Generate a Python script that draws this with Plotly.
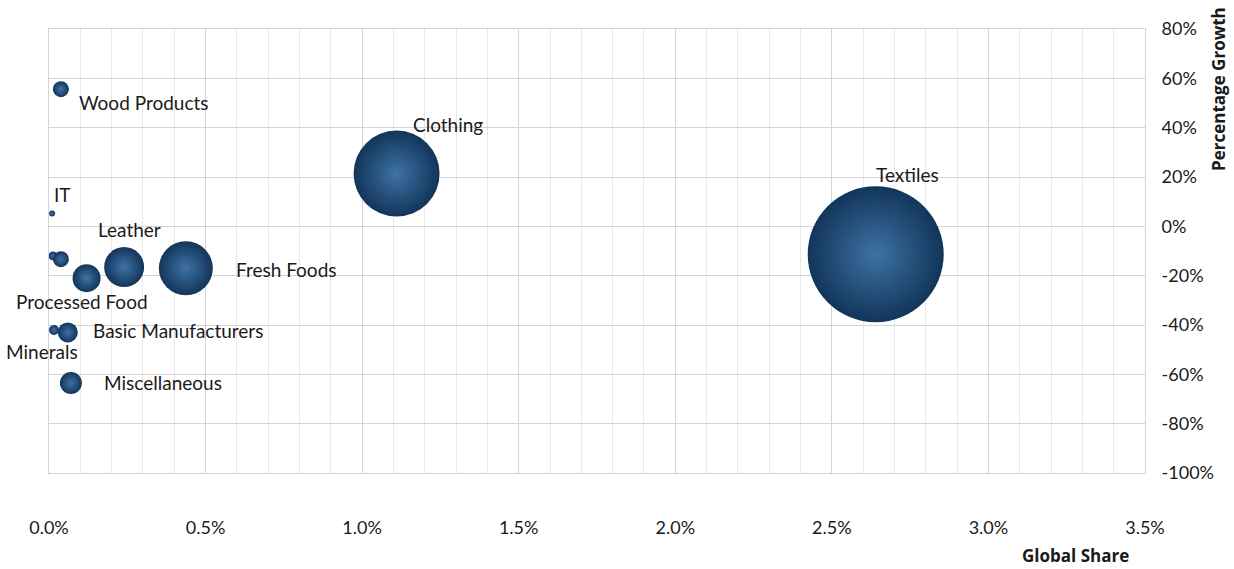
import plotly.graph_objects as go

# ---- data ----
sectors = ["Wood Products", "IT", "Unlabeled A", "Unlabeled B", "Processed Food", "Leather",
           "Fresh Foods", "Minerals", "Basic Manufacturers", "Miscellaneous", "Clothing", "Textiles"]
global_share = [0.038, 0.010, 0.013, 0.038, 0.120, 0.240, 0.437, 0.016, 0.060, 0.070, 1.110, 2.640]   # %
growth = [55.6, 5.2, -12.0, -13.3, -21.0, -16.5, -17.0, -42.0, -43.0, -63.5, 21.4, -11.3]           # %
bubble_size = [16, 6, 9, 16, 28, 40, 54, 10, 20, 22, 86, 136]

labels = ["Wood Products", "IT", "", "", "Processed Food", "Leather", "Fresh Foods",
          "Minerals", "Basic Manufacturers", "Miscellaneous", "Clothing", "Textiles"]

y_tick_vals = [80, 60, 40, 20, 0, -20, -40, -60, -80, -100]
y_tick_text = ["80%", "60%", "40%", "20%", "0%", "-20%", "-40%", "-60%", "-80%", "-100%"]
x_tick_vals = [0, 0.5, 1.0, 1.5, 2.0, 2.5, 3.0, 3.5]
x_tick_text = ["0.0%", "0.5%", "1.0%", "1.5%", "2.0%", "2.5%", "3.0%", "3.5%"]

# label offsets in pixels (dx, dy, anchor)
label_pos = {
    "Wood Products": (16, -13, "left"),
    "IT": (0, 19, "left"),
    "Processed Food": (-73, -23, "left"),
    "Leather": (-28, 38, "left"),
    "Fresh Foods": (48, -1, "left"),
    "Minerals": (26, -22, "right"),
    "Basic Manufacturers": (23, 2, "left"),
    "Miscellaneous": (31, 0, "left"),
    "Clothing": (14, 49, "left"),
    "Textiles": (-2, 80, "left"),
}

fig = go.Figure()
fig.add_trace(go.Scatter(
    x=global_share, y=growth, mode="markers",
    marker=dict(size=bubble_size, sizemode="diameter", color="#12355a", opacity=1,
                gradient=dict(type="radial", color="#3e72a4"),
                line=dict(width=0)),
    hovertext=sectors, showlegend=False,
))

font = "Lato"
for lab, xv, yv in zip(labels, global_share, growth):
    if not lab:
        continue
    dx, dy, anc = label_pos[lab]
    fig.add_annotation(x=xv, y=yv, text=lab, showarrow=False, xanchor=anc, yanchor="middle",
                       xshift=dx, yshift=dy, font=dict(family=font, size=19, color="#1a1a1a"))

fig.add_annotation(xref="paper", yref="paper", x=1.067, y=1.055, text="<b>Percentage Growth</b>",
                   textangle=-90, showarrow=False, xanchor="center", yanchor="top",
                   font=dict(family="Open Sans", size=17, color="#1a1a1a"))
fig.add_annotation(xref="paper", yref="paper", x=0.937, y=-0.185, text="<b>Global Share</b>",
                   showarrow=False, xanchor="center", yanchor="middle",
                   font=dict(family="Open Sans", size=17, color="#1a1a1a"))

fig.update_xaxes(range=[0, 3.5], tickvals=x_tick_vals, ticktext=x_tick_text,
                 showgrid=True, gridcolor="#d4d4d4", gridwidth=1,
                 minor=dict(dtick=0.1, showgrid=True, gridcolor="#e8e8e8", gridwidth=1),
                 showline=True, linecolor="#d4d4d4", mirror=True, zeroline=False,
                 ticks="", ticklabelstandoff=38,
                 tickfont=dict(family=font, size=18, color="#1a1a1a"))
fig.update_yaxes(range=[-100, 80], tickvals=y_tick_vals, ticktext=y_tick_text, side="right",
                 showgrid=True, gridcolor="#d4d4d4", gridwidth=1,
                 showline=True, linecolor="#d4d4d4", mirror=True, zeroline=False,
                 ticks="", ticklabelstandoff=12,
                 tickfont=dict(family=font, size=18, color="#1a1a1a"))

fig.update_layout(width=1234, height=569, plot_bgcolor="white", paper_bgcolor="white",
                  margin=dict(l=49, r=89, t=29, b=96))
fig.write_html("out.html")
